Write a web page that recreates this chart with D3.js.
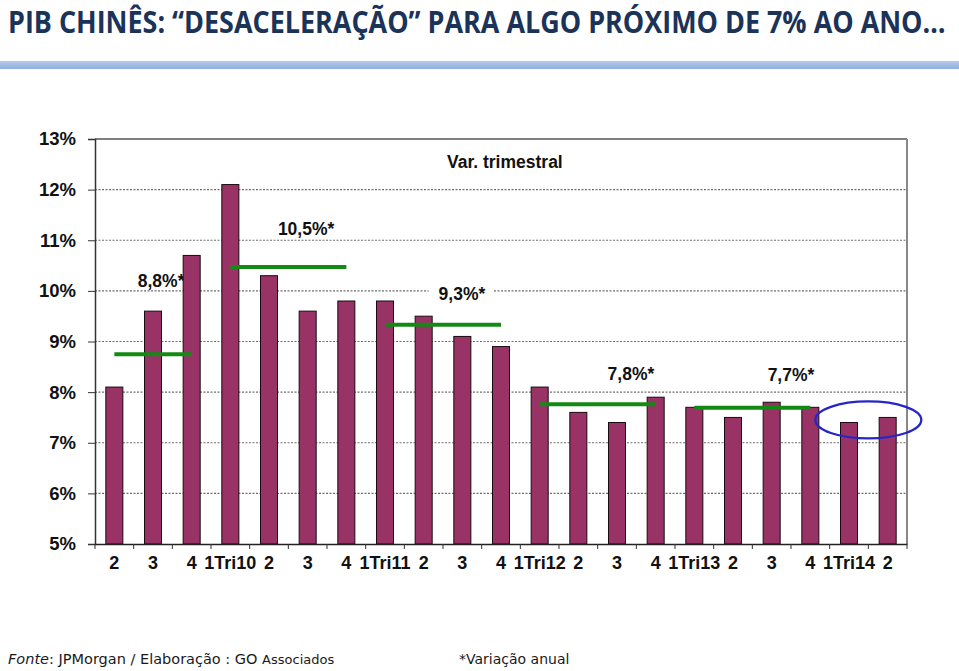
<!DOCTYPE html>
<html><head><meta charset="utf-8">
<script src="https://cdn.jsdelivr.net/npm/d3@7"></script>
<style>
html,body{margin:0;padding:0;background:#fff;}
svg{display:block;}
</style></head>
<body>
<svg id="chart" width="959" height="671"></svg>
<script>
// ---- data ----
const categories = ["2","3","4","1Tri10","2","3","4","1Tri11","2","3","4","1Tri12","2","3","4","1Tri13","2","3","4","1Tri14","2"];
const quarterlyValues = [8.1,9.6,10.7,12.1,10.3,9.6,9.8,9.8,9.5,9.1,8.9,8.1,7.6,7.4,7.9,7.7,7.5,7.8,7.7,7.4,7.5];
const annualLabels = ["8,8%*","10,5%*","9,3%*","7,8%*","7,7%*"];
const annualValues = [8.75,10.47,9.33,7.76,7.69];
const annualStart = [0,3,7,11,15];
const annualEnd = [2,6,10,14,18];
const yTicks = [5,6,7,8,9,10,11,12,13];

const titleText = "PIB CHINÊS: “DESACELERAÇÃO” PARA ALGO PRÓXIMO DE 7% AO ANO…";

(function () {
const svg = d3.select("#chart");

// title (scaled horizontally to fit, mimicking a condensed face)
const title = svg.append("text")
  .attr("x", 0).attr("y", 0)
  .style("font-family", "'Open Sans', sans-serif").style("font-weight", 700)
  .style("font-size", "30px").style("fill", "#1b3358")
  .text(titleText);
const tw = title.node().getComputedTextLength();
title.attr("transform", `translate(8,33) scale(${938 / tw},1)`);

// separator band
const grad = svg.append("defs").append("linearGradient").attr("id","band").attr("x1",0).attr("y1",0).attr("x2",0).attr("y2",1);
grad.append("stop").attr("offset","0%").attr("stop-color","#b3cae8");
grad.append("stop").attr("offset","100%").attr("stop-color","#8fb0dc");
svg.append("rect").attr("x",0).attr("y",61).attr("width",959).attr("height",8).attr("fill","url(#band)");

// chart area
const pL = 95, pR = 907, pT = 139, pB = 544;
const x = d3.scaleBand().domain(d3.range(categories.length)).range([pL, pR]).paddingInner(0.56).paddingOuter(0.28);
const xb = d3.scaleBand().domain(d3.range(categories.length)).range([pL, pR]);
const y = d3.scaleLinear().domain([5, 13]).range([pB, pT]);
const cx = i => xb(i) + xb.bandwidth() / 2;

// gridlines
svg.append("g").selectAll("line").data(yTicks.filter(t => t > 5 && t < 13)).join("line")
  .attr("x1", pL).attr("x2", pR)
  .attr("y1", d => y(d)).attr("y2", d => y(d))
  .attr("stroke", "#6e6e6e").attr("stroke-width", 1.2).attr("stroke-dasharray", "2,1.5");

// border top & right
svg.append("line").attr("x1", pL).attr("x2", pR).attr("y1", y(13)).attr("y2", y(13)).attr("stroke", "#555").attr("stroke-width", 1.5);
svg.append("line").attr("x1", pR).attr("x2", pR).attr("y1", y(13)).attr("y2", y(5)).attr("stroke", "#888").attr("stroke-width", 2);

// annotation labels (in data coordinates)
const labelFont = "'Liberation Sans', Arial, sans-serif";
const annotPos = [[1.71,10.2],[5.46,11.23],[9.49,9.94],[13.86,8.36],[18.0,8.34]];
const ann = svg.append("g");
annotPos.forEach((p, i) => {
  const px = pL + p[0] * xb.bandwidth(), py = y(p[1]);
  const t = ann.append("text").attr("x", px).attr("y", py).attr("dy", "0.35em")
    .attr("text-anchor", "middle")
    .style("font-family", labelFont).style("font-weight", 700).style("font-size", "17.5px").style("fill", "#111")
    .text(annualLabels[i]);
  if (i === 2) {
    const bb = t.node().getBBox();
    ann.insert("rect", "text").attr("x", bb.x - 10).attr("y", bb.y).attr("width", bb.width + 18).attr("height", bb.height).attr("fill", "#fff");
  }
});
svg.append("text").attr("x", pL + 10.6 * xb.bandwidth()).attr("y", y(12.55)).attr("dy", "0.35em")
  .attr("text-anchor", "middle")
  .style("font-family", labelFont).style("font-weight", 700).style("font-size", "17.5px").style("fill", "#111")
  .text("Var. trimestral");

// bars
svg.append("g").selectAll("rect").data(quarterlyValues).join("rect")
  .attr("x", (d, i) => x(i)).attr("width", x.bandwidth())
  .attr("y", d => y(d)).attr("height", d => y(5) - y(d))
  .attr("fill", "#993366").attr("stroke", "#1a0a10").attr("stroke-width", 1);

// annual average lines
svg.append("g").selectAll("line").data(annualValues).join("line")
  .attr("x1", (d, i) => cx(annualStart[i])).attr("x2", (d, i) => cx(annualEnd[i]))
  .attr("y1", d => y(d)).attr("y2", d => y(d))
  .attr("stroke", "#138a13").attr("stroke-width", 4);

// y axis
const yAxis = svg.append("g").attr("transform", `translate(${pL},0)`)
  .call(d3.axisLeft(y).tickValues(yTicks).tickFormat(d => d + "%").tickSize(7).tickPadding(12));
yAxis.select(".domain").attr("stroke", "#333").attr("stroke-width", 1.5);
yAxis.selectAll(".tick line").attr("stroke", "#333");
yAxis.selectAll("text").style("font-family", labelFont).style("font-weight", 700).style("font-size", "18.5px").style("fill", "#111");

// x axis
const xAxis = svg.append("g").attr("transform", `translate(0,${pB})`)
  .call(d3.axisBottom(xb).tickFormat(i => categories[i]).tickSize(0).tickPadding(12));
xAxis.select(".domain").attr("stroke", "#222").attr("stroke-width", 1.5);
xAxis.selectAll("text").style("font-family", labelFont).style("font-weight", 700).style("font-size", "18px").style("fill", "#111");
svg.append("g").selectAll("line").data(d3.range(categories.length + 1)).join("line")
  .attr("x1", i => pL + i * xb.bandwidth()).attr("x2", i => pL + i * xb.bandwidth())
  .attr("y1", pB).attr("y2", pB + 5).attr("stroke", "#333").attr("stroke-width", 1);

// highlight ellipse
svg.append("ellipse").attr("cx", (cx(19) + cx(20)) / 2).attr("cy", y(7.45))
  .attr("rx", 53).attr("ry", 18.5).attr("fill", "none").attr("stroke", "#2626c8").attr("stroke-width", 2.2);

// footer
const foot = svg.append("text").attr("x", 8).attr("y", 664)
  .style("font-family", "'DejaVu Sans', Verdana, sans-serif").style("font-size", "14.5px").style("fill", "#1a1a1a");
foot.append("tspan").style("font-style", "italic").text("Fonte");
foot.append("tspan").text(": JPMorgan / Elaboração : GO ");
foot.append("tspan").style("font-size", "13px").text("Associados");
svg.append("text").attr("x", 459).attr("y", 664)
  .style("font-family", "'DejaVu Sans', Verdana, sans-serif").style("font-size", "14px").style("fill", "#1a1a1a")
  .text("*Variação anual");
})();
</script>
</body></html>
